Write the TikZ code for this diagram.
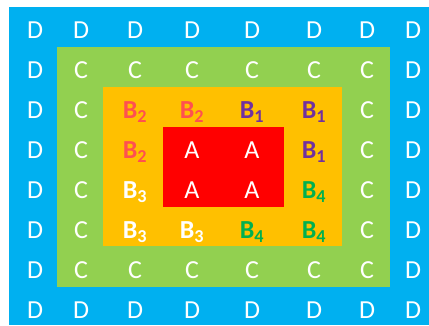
\documentclass[tikz,border=0pt]{standalone}
\usepackage{fontspec}
\setmainfont{Carlito}
\definecolor{azul}{HTML}{00B0F0}
\definecolor{verde}{HTML}{92D050}
\definecolor{naranja}{HTML}{FFC000}
\definecolor{rojo}{HTML}{FF0000}
\definecolor{coral}{HTML}{FF5050}
\definecolor{morado}{HTML}{7030A0}
\definecolor{verdeB}{HTML}{00B050}

\begin{document}
\begin{tikzpicture}[x=1pt,y=-1pt,
  letra/.style={anchor=base,inner sep=0pt,text=white,font=\fontsize{26}{30}\selectfont},
  celdaD0/.style={letra}, celdaC0/.style={letra}, celdaA0/.style={letra},
  celdaB1/.style={letra,text=morado,font=\fontsize{26}{30}\selectfont\bfseries},
  celdaB2/.style={letra,text=coral,font=\fontsize{26}{30}\selectfont\bfseries},
  celdaB3/.style={letra,font=\fontsize{26}{30}\selectfont\bfseries},
  celdaB4/.style={letra,text=verdeB,font=\fontsize{26}{30}\selectfont\bfseries}]
  \useasboundingbox (0,0) rectangle (429,325);
  % capas
  \fill[azul] (9,7) rectangle (429,325);
  \fill[verde] (57,47) rectangle (390,287);
  \fill[naranja] (103,87) rectangle (342,246);
  \fill[rojo] (163,127) rectangle (284,207);
  % letras
  \foreach \fila [count=\r] in {
      {D/0,D/0,D/0,D/0,D/0,D/0,D/0,D/0},
      {D/0,C/0,C/0,C/0,C/0,C/0,C/0,D/0},
      {D/0,C/0,B/2,B/2,B/1,B/1,C/0,D/0},
      {D/0,C/0,B/2,A/0,A/0,B/1,C/0,D/0},
      {D/0,C/0,B/3,A/0,A/0,B/4,C/0,D/0},
      {D/0,C/0,B/3,B/3,B/4,B/4,C/0,D/0},
      {D/0,C/0,C/0,C/0,C/0,C/0,C/0,D/0},
      {D/0,D/0,D/0,D/0,D/0,D/0,D/0,D/0}}
    \foreach \l/\s [count=\c] in \fila {
      \pgfmathsetmacro{\xx}{{35,81,135,192,252,314,367,413}[\c-1]}
      \node[celda\l\s] (n\r-\c) at (\xx,{38.5+40*(\r-1)}) {\l\ifnum\s>0\textsubscript{\s}\fi};
    }
\end{tikzpicture}
\end{document}
